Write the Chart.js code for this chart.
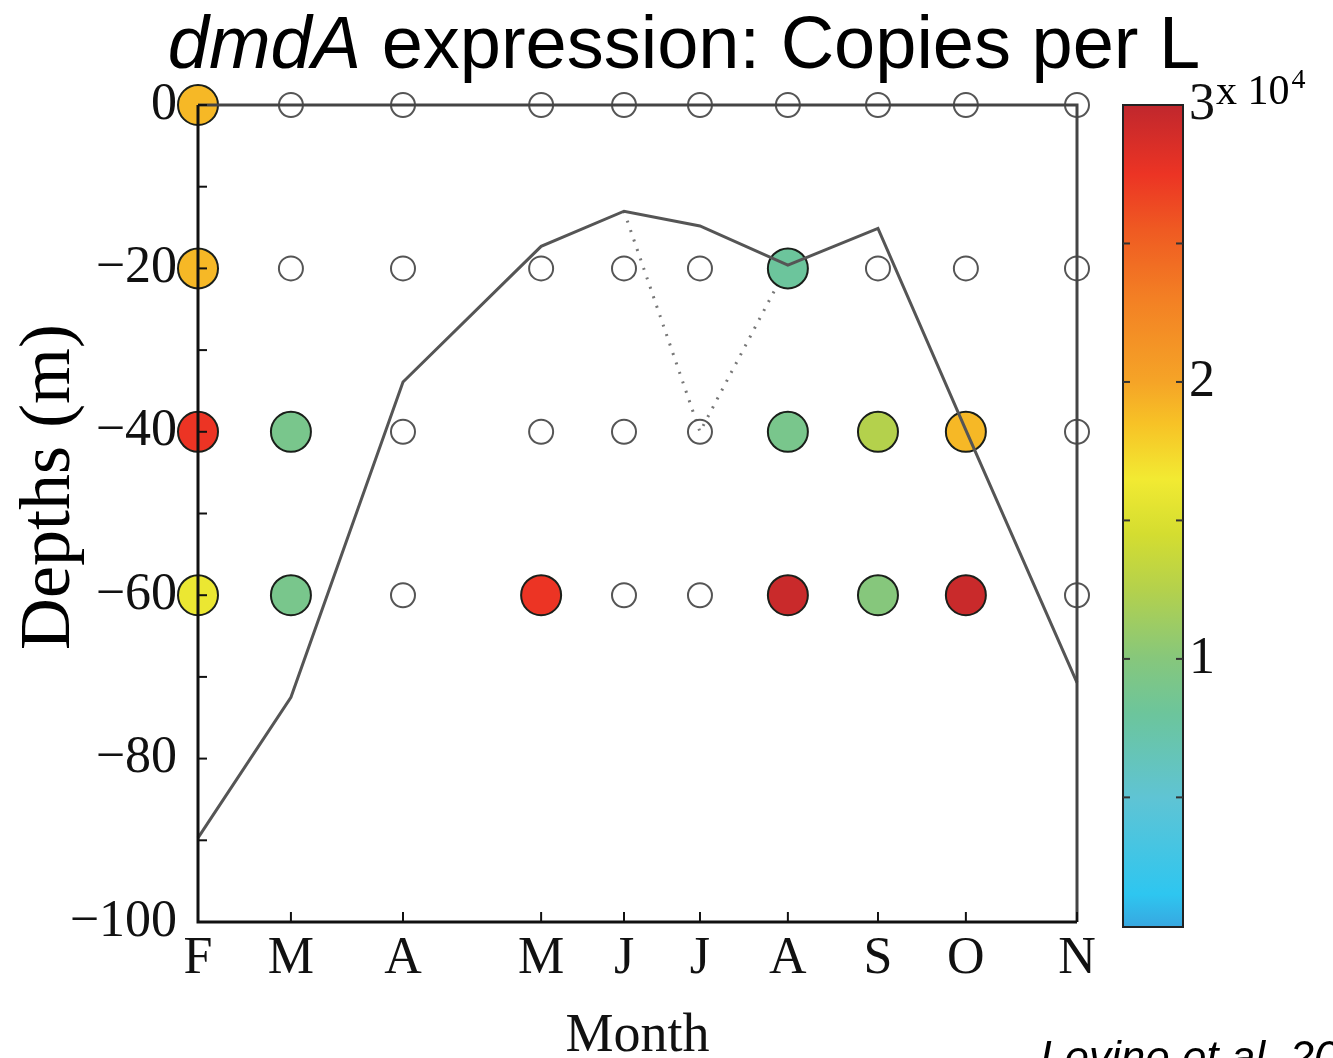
<!DOCTYPE html>
<html lang="en">
<head>
<meta charset="UTF-8">
<title>dmdA expression: Copies per L</title>
<script src="https://cdn.jsdelivr.net/npm/chart.js"></script>
<style>
  body { margin: 0; background: #fff; }
  #wrap { position: relative; width: 1333px; height: 1058px; }
</style>
</head>
<body>
<div id="wrap"><canvas id="dmdaChart" width="1333" height="1058"></canvas></div>
<script>
// sampling months and their day offset from early February
const months = ['F', 'M', 'A', 'M', 'J', 'J', 'A', 'S', 'O', 'N'];
const sampleDay = [0, 29.6, 65.3, 109.3, 135.7, 159.9, 187.9, 216.6, 244.6, 280];

// dmdA copies per L (x 10^4) at each depth, null = sampled but not detected
const copies0  = [1.9, null, null, null, null, null, null, null, null, null];
const copies20 = [1.9, null, null, null, null, null, 0.8, null, null, null];
const copies40 = [2.75, 0.9, null, null, null, null, 0.9, 1.25, 1.9, null];
const copies60 = [1.6, 0.9, null, 2.75, null, null, 2.95, 1.0, 2.95, null];
const depthRows = [[0, copies0], [-20, copies20], [-40, copies40], [-60, copies60]];

// mixed layer depth (m)
const mixedLayer = [-89.7, -72.5, -33.9, -17.3, -13.0, -14.8, -19.6, -15.1, -39.8, -70.7];
// alternative July mixed layer (dotted)
const altDays = [135.7, 159.9, 187.9];
const altDepth = [-13.0, -40, -19.6];

// colour map (value x 10^4 -> colour)
const cmapVals   = [0, 0.15, 0.5, 0.8, 1.0, 1.25, 1.45, 1.65, 1.85, 2.0, 2.3, 2.55, 2.75, 3.0];
const cmapColors = ['#3a9fdc', '#2ec6f0', '#5fc4d4', '#6cc59c', '#86c77c', '#b4d14c', '#d4dd30',
                    '#f2ea32', '#f7c226', '#f5a427', '#f38024', '#ef5a22', '#ec3424', '#c0272d'];
const cbTickVals = [0.5, 1, 1.5, 2, 2.5, 3];

function hexRgb(h) {
  return [parseInt(h.slice(1, 3), 16), parseInt(h.slice(3, 5), 16), parseInt(h.slice(5, 7), 16)];
}
function colorFor(v) {
  for (let i = 1; i < cmapVals.length; i++) {
    if (v <= cmapVals[i]) {
      const t = (v - cmapVals[i - 1]) / (cmapVals[i] - cmapVals[i - 1]);
      const a = hexRgb(cmapColors[i - 1]), b = hexRgb(cmapColors[i]);
      const c = a.map((x, k) => Math.round(x + (b[k] - x) * t));
      return `rgb(${c[0]},${c[1]},${c[2]})`;
    }
  }
  return cmapColors[cmapColors.length - 1];
}

const filled = [], filledColors = [], empty = [];
depthRows.forEach(([depth, vals]) => {
  vals.forEach((v, i) => {
    if (v === null) {
      empty.push({ x: sampleDay[i], y: depth });
    } else {
      filled.push({ x: sampleDay[i], y: depth });
      filledColors.push(colorFor(v));
    }
  });
});

const serif = '"Liberation Serif", "Times New Roman", serif';
const sans = '"Liberation Sans", Arial, sans-serif';
Chart.defaults.font.family = serif;
Chart.defaults.color = '#111';

const decorations = {
  id: 'decorations',
  afterDatasetsDraw(chart) {
    const { ctx, chartArea: a, scales } = chart;
    ctx.save();
    // frame
    ctx.lineWidth = 3;
    ctx.strokeStyle = '#444';
    ctx.beginPath();
    ctx.moveTo(a.left, a.top); ctx.lineTo(a.right, a.top); ctx.lineTo(a.right, a.bottom);
    ctx.stroke();
    ctx.strokeStyle = '#111';
    ctx.beginPath();
    ctx.moveTo(a.left, a.top); ctx.lineTo(a.left, a.bottom); ctx.lineTo(a.right, a.bottom);
    ctx.stroke();
    // inner ticks
    ctx.lineWidth = 2;
    scales.y.ticks.forEach(t => {
      const py = scales.y.getPixelForValue(t.value);
      ctx.beginPath(); ctx.moveTo(a.left, py); ctx.lineTo(a.left + 9, py); ctx.stroke();
    });
    scales.x.ticks.forEach(t => {
      const px = scales.x.getPixelForValue(t.value);
      ctx.beginPath(); ctx.moveTo(px, a.bottom); ctx.lineTo(px, a.bottom - 10); ctx.stroke();
    });

    // colour bar
    const cb = scales.cb;
    const x0 = cb.left + 46, x1 = cb.left + 106;
    const yTop = cb.getPixelForValue(3), yZero = cb.getPixelForValue(0);
    const yBot = cb.bottom + 5;
    const grad = ctx.createLinearGradient(0, yZero, 0, yTop);
    cmapVals.forEach((v, i) => grad.addColorStop(v / 3, cmapColors[i]));
    ctx.fillStyle = grad;
    ctx.fillRect(x0, yTop, x1 - x0, yBot - yTop);
    ctx.strokeStyle = '#222';
    ctx.lineWidth = 2;
    ctx.strokeRect(x0, yTop, x1 - x0, yBot - yTop);
    ctx.strokeStyle = '#333';
    cbTickVals.forEach(v => {
      if (v === 3) return;
      const py = cb.getPixelForValue(v);
      ctx.beginPath(); ctx.moveTo(x0, py); ctx.lineTo(x0 + 7, py); ctx.stroke();
      ctx.beginPath(); ctx.moveTo(x1, py); ctx.lineTo(x1 - 7, py); ctx.stroke();
    });
    ctx.restore();
  },
  afterDraw(chart) {
    const { ctx } = chart;
    ctx.save();
    ctx.fillStyle = '#000';
    ctx.textBaseline = 'alphabetic';
    // title with italic gene name
    const part1 = 'dmdA', part2 = ' expression: Copies per L';
    ctx.font = `italic 74px ${sans}`;
    const w1 = ctx.measureText(part1).width;
    ctx.font = `74px ${sans}`;
    const w2 = ctx.measureText(part2).width;
    const tx = 684 - (w1 + w2) / 2;
    ctx.font = `italic 74px ${sans}`;
    ctx.textAlign = 'left';
    ctx.fillText(part1, tx, 68);
    ctx.font = `74px ${sans}`;
    ctx.fillText(part2, tx + w1, 68);

    // y axis title
    ctx.save();
    ctx.translate(50, 487);
    ctx.rotate(-Math.PI / 2);
    ctx.textAlign = 'center';
    ctx.textBaseline = 'middle';
    ctx.font = `72px ${serif}`;
    ctx.fillText('Depths (m)', 0, 0);
    ctx.restore();

    // colour bar multiplier
    ctx.textAlign = 'left';
    ctx.font = `42px ${serif}`;
    ctx.fillText('x 10', 1216, 104);
    const wx = ctx.measureText('x 10').width;
    ctx.font = `28px ${serif}`;
    ctx.fillText('4', 1216 + wx + 2, 88);

    // citation
    ctx.font = `italic 44px ${sans}`;
    ctx.fillText('Levine et al. 2012', 1040, 1072);
    ctx.restore();
  }
};

new Chart(document.getElementById('dmdaChart'), {
  type: 'scatter',
  data: {
    datasets: [
      {
        label: 'Mixed layer depth',
        data: sampleDay.map((d, i) => ({ x: d, y: mixedLayer[i] })),
        showLine: true,
        borderColor: '#555',
        borderWidth: 3,
        pointRadius: 0,
        order: 0
      },
      {
        label: 'dmdA copies',
        data: filled,
        pointRadius: 20,
        pointBackgroundColor: filledColors,
        pointBorderColor: '#1a1f1a',
        pointBorderWidth: 2,
        order: 1
      },
      {
        label: 'Not detected',
        data: empty,
        pointRadius: 12,
        pointBackgroundColor: 'rgba(0,0,0,0)',
        pointBorderColor: '#555',
        pointBorderWidth: 2,
        order: 1
      },
      {
        label: 'July alternative',
        data: altDays.map((d, i) => ({ x: d, y: altDepth[i] })),
        showLine: true,
        borderColor: '#777',
        borderWidth: 3,
        borderDash: [2, 8],
        pointRadius: 0,
        order: 2
      }
    ]
  },
  options: {
    responsive: false,
    animation: false,
    devicePixelRatio: 1,
    layout: { padding: { top: 105, left: 0, right: 0, bottom: 0 } },
    plugins: { legend: { display: false }, tooltip: { enabled: false }, title: { display: false } },
    elements: { point: { hoverRadius: 0 } },
    datasets: { scatter: { clip: false } },
    scales: {
      x: {
        type: 'linear',
        min: 0,
        max: 280,
        afterBuildTicks: s => { s.ticks = sampleDay.map(v => ({ value: v })); },
        afterFit: s => { s.height = 136; },
        grid: { display: false, drawTicks: false },
        border: { display: false },
        ticks: {
          autoSkip: false,
          maxRotation: 0,
          padding: 6,
          font: { size: 52 },
          color: '#111',
          callback: (v, i) => months[i]
        },
        title: {
          display: true,
          text: 'Month',
          font: { size: 54, lineHeight: 0.8 },
          padding: { top: 0, bottom: 0 },
          color: '#111'
        }
      },
      y: {
        type: 'linear',
        min: -100,
        max: 0,
        afterBuildTicks: s => {
          const t = [];
          for (let v = -100; v <= 0; v += 10) t.push({ value: v });
          s.ticks = t;
        },
        afterFit: s => { s.width = 198; },
        grid: { display: false, drawTicks: false },
        border: { display: false },
        ticks: {
          padding: 21,
          font: { size: 52 },
          color: '#111',
          callback: v => (v % 20 === 0 ? (v < 0 ? '\u2212' + Math.abs(v) : '0') : '')
        }
      },
      cb: {
        type: 'linear',
        position: 'right',
        min: 0.05,
        max: 3,
        afterBuildTicks: s => { s.ticks = cbTickVals.map(v => ({ value: v })); },
        afterFit: s => { s.width = 256; s.paddingTop = 0; s.paddingBottom = 0; },
        grid: { display: false, drawTicks: false },
        border: { display: false },
        ticks: {
          padding: 112,
          font: { size: 52 },
          color: '#111',
          callback: v => (Number.isInteger(v) ? String(v) : '')
        }
      }
    }
  },
  plugins: [decorations]
});
</script>
</body>
</html>
